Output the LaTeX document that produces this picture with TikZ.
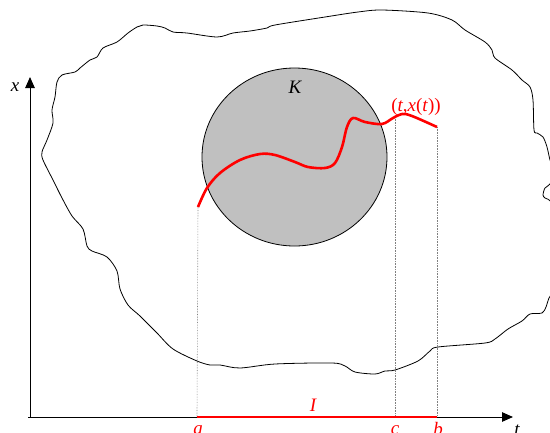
\documentclass[tikz,border=0pt]{standalone}
\usepackage{fontspec}
\setmainfont{Liberation Serif}
\usetikzlibrary{arrows.meta,shapes.geometric}
\definecolor{kgray}{RGB}{192,192,192}
\begin{document}
\begin{tikzpicture}[x=1pt,y=-1pt,
  lbl/.style={font=\fontsize{19}{22}\selectfont\itshape, inner sep=0pt, anchor=base},
  axis/.style={line width=1pt, -{Triangle[length=11pt,width=9.5pt]}},
  guide/.style={densely dotted, gray, line width=0.6pt},
  redline/.style={red, line width=2.6pt},
  blob/.style={line width=0.8pt, black}]
\useasboundingbox (0,0) rectangle (550,432);
% blob
\draw[blob] plot[smooth cycle, tension=0.5] coordinates {
 (62,75) (75,72) (80,68) (90,60) (97,57) (103,48) (117,42) (128,33) (137,27) (143,25)
 (157,26) (165,28) (173,32) (187,33) (217,37) (233,33) (250,31) (267,28) (275,25)
 (325,17) (358,12) (382,10) (428,13) (452,20) (465,30) (485,42) (492,50) (495,58)
 (512,70) (522,80) (530,87) (533,100) (534,130) (537,133) (543,137) (547,147)
 (550,160) (554,172) (550,184) (545,188) (543,195) (545,198) (552,204) (562,240)
 (556,285) (549,298) (546,307) (542,313) (530,314) (522,321) (508,329) (495,339)
 (485,343) (438,347) (430,351) (418,361) (395,370) (385,371) (375,374) (355,372)
 (345,366) (332,363) (275,364) (240,368) (220,365) (210,365) (197,361) (173,349)
 (157,333) (140,316) (128,305) (120,289) (117,271) (107,257) (92,251) (87,246)
 (83,229) (72,216) (62,198) (53,180) (43,160) (42,152) (47,140) (53,123) (52,110)
 (55,97) (57,82)};
% set K
\node[draw, line width=0.8pt, fill=kgray, ellipse, minimum width=185pt, minimum height=178pt, inner sep=0pt]
  (K) at (294.5,157) {};
\node[lbl] (Klbl) at (295,93) {K};
% coordinates
\coordinate (O) at (30,417);
\coordinate (xtip) at (30,77);
\coordinate (tstart) at (28,417);
\coordinate (ttip) at (513,417);
\coordinate (A) at (197,417);
\coordinate (C) at (395,417);
\coordinate (B) at (437,417);
\coordinate (P) at (198,207);
\coordinate (R) at (395,117);
\coordinate (Q) at (437,127);
% guides
\draw[guide] (P) -- (A);
\draw[guide] (R) -- (C);
\draw[guide] (Q) -- (B);
% axes
\draw[axis] (O) -- (xtip);
\draw[axis] (tstart) -- (ttip);
% interval
\draw[redline] (A) -- (B);
% trajectory
\draw[redline, line join=round] plot[smooth, tension=0.55] coordinates {
 (198,207) (207,188) (220,173) (240,160) (260,154) (275,155) (295,162) (308,167)
 (325,168) (335,163) (342,147) (347,127) (353,118) (365,122) (382,124) (393,118)
 (402,114) (412,116) (437,127)};
% labels
\node[lbl] (xl) at (15,91) {x};
\node[lbl, red] (pt) at (416,111) {\upshape(\textit{t},\textit{x}(\textit{t}))};
\node[lbl, red] (Il) at (313,411) {I};
\node[lbl, red] (al) at (198,434) {a};
\node[lbl, red] (cl) at (395,434) {c};
\node[lbl, red] (bl) at (438,435) {b};
\node[lbl] (tl) at (517,435) {t};
\end{tikzpicture}
\end{document}
